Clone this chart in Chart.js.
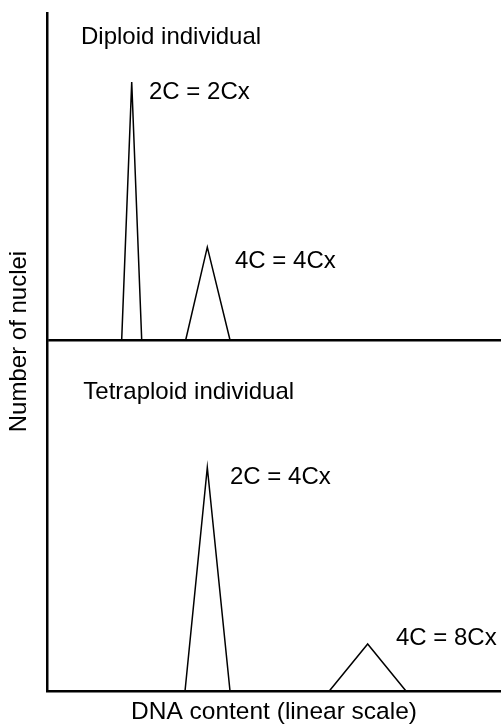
<!DOCTYPE html>
<html><head><meta charset="utf-8">
<script src="https://cdn.jsdelivr.net/npm/chart.js@4/dist/chart.umd.min.js"></script>
<style>html,body{margin:0;padding:0;background:#fff;} canvas{display:block;}</style>
</head><body>
<canvas id="c" width="501" height="726"></canvas>
<script>
// DNA content (x, arbitrary linear units 0-100) and number of nuclei (y, 0-100 per panel)
const diploid2C_dna = [16.45, 18.66, 20.86];
const diploid2C_nuclei = [0, 78.9, 0];
const diploid4C_dna = [30.55, 35.31, 40.31];
const diploid4C_nuclei = [0, 28.4, 0];
const tetraploid2C_dna = [30.40, 35.31, 40.31];
const tetraploid2C_nuclei = [0, 63.7, 0];
const tetraploid4C_dna = [62.18, 70.63, 79.07];
const tetraploid4C_nuclei = [0, 13.4, 0];
const panelTitles = ['Diploid individual', 'Tetraploid individual'];
const peakLabels = ['2C = 2Cx', '4C = 4Cx', '2C = 4Cx', '4C = 8Cx'];
const xAxisTitle = 'DNA content (linear scale)';
const yAxisTitle = 'Number of nuclei';

const FONT = '"Liberation Sans", Arial, Helvetica, sans-serif';
const toPoints = (xs, ys) => xs.map((x, i) => ({x: x, y: ys[i]}));
function peak(xs, ys, axis) {
  return { data: toPoints(xs, ys), yAxisID: axis, borderColor: '#000', borderWidth: 1.5,
           pointRadius: 0, fill: false, tension: 0 };
}

const labelPlugin = {
  id: 'textLabels',
  afterDraw(chart, args, opts) {
    const ctx = chart.ctx, xs = chart.scales.x;
    ctx.save();
    ctx.fillStyle = '#000';
    ctx.font = '24px ' + FONT;
    ctx.textBaseline = 'middle';
    ctx.textAlign = 'left';
    opts.items.forEach(it => {
      ctx.fillText(it.text, xs.getPixelForValue(it.x), chart.scales[it.axis].getPixelForValue(it.y));
    });
    const yt = chart.scales.yTop;
    ctx.translate(opts.yTitleX, yt.bottom + opts.yTitleShift);
    ctx.rotate(-Math.PI / 2);
    ctx.textAlign = 'center';
    ctx.fillText(yAxisTitle, 0, 0);
    ctx.restore();
  }
};

new Chart(document.getElementById('c'), {
  type: 'line',
  data: {
    datasets: [
      peak(diploid2C_dna, diploid2C_nuclei, 'yTop'),
      peak(diploid4C_dna, diploid4C_nuclei, 'yTop'),
      peak(tetraploid2C_dna, tetraploid2C_nuclei, 'yBottom'),
      peak(tetraploid4C_dna, tetraploid4C_nuclei, 'yBottom')
    ]
  },
  options: {
    responsive: false,
    animation: false,
    devicePixelRatio: 1,
    layout: { padding: { left: 47, top: 13, right: 0, bottom: 0 } },
    plugins: {
      legend: { display: false },
      tooltip: { enabled: false },
      textLabels: {
        yTitleX: 19.5,
        yTitleShift: 1.5,
        items: [
          { text: panelTitles[0], x: 7.49, y: 92.5, axis: 'yTop' },
          { text: peakLabels[0], x: 22.47, y: 75.8, axis: 'yTop' },
          { text: peakLabels[1], x: 41.41, y: 24.2, axis: 'yTop' },
          { text: panelTitles[1], x: 8.0, y: 85.2, axis: 'yBottom' },
          { text: peakLabels[2], x: 40.31, y: 61.0, axis: 'yBottom' },
          { text: peakLabels[3], x: 76.87, y: 15.1, axis: 'yBottom' }
        ]
      }
    },
    scales: {
      x: {
        type: 'linear', min: 0, max: 100,
        ticks: { display: false },
        grid: { display: false, drawTicks: false },
        border: { display: true, color: '#000', width: 2.5 },
        title: { display: true, text: xAxisTitle, color: '#000',
                 font: { family: FONT, size: 24.5, lineHeight: 1.1 }, padding: { top: 8, bottom: 0 } }
      },
      yTop: {
        type: 'linear', position: 'left', stack: 'panels', stackWeight: 327, weight: 2,
        min: 0, max: 100,
        ticks: { display: false, stepSize: 100 },
        grid: { drawTicks: false,
                color: c => (c.tick && c.tick.value === 0) ? '#000' : 'rgba(0,0,0,0)',
                lineWidth: c => (c.tick && c.tick.value === 0) ? 2.5 : 0 },
        border: { display: true, color: '#000', width: 2.5 }
      },
      yBottom: {
        type: 'linear', position: 'left', stack: 'panels', stackWeight: 351, weight: 1,
        min: 0, max: 100,
        ticks: { display: false, stepSize: 100 },
        grid: { display: false, drawTicks: false },
        border: { display: true, color: '#000', width: 2.5 }
      }
    }
  },
  plugins: [labelPlugin]
});
</script>
</body></html>
